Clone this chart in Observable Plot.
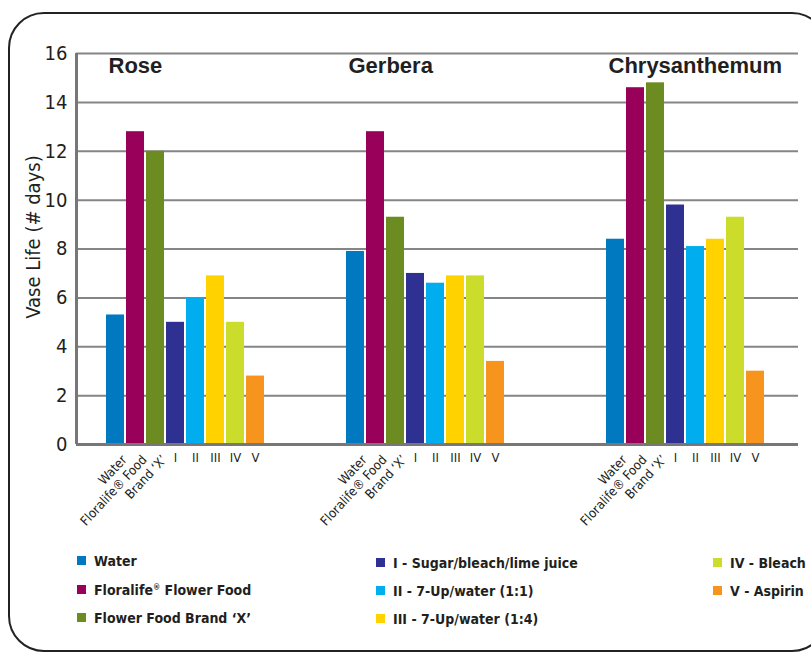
<!DOCTYPE html>
<html>
<head>
<meta charset="utf-8">
<script src="https://cdn.jsdelivr.net/npm/d3@7"></script>
<script src="https://cdn.jsdelivr.net/npm/@observablehq/plot@0.6"></script>
<style>
  html, body { margin: 0; padding: 0; background: #fff; width: 811px; height: 652px; overflow: hidden; }
  #frame { position: absolute; left: 8px; top: 12px; width: 816px; height: 636px; border: 2px solid #222; border-radius: 36px; }
  #chart { position: absolute; left: 0; top: 0; }
  .leg { position: absolute; font-family: "Liberation Sans Narrow", "DejaVu Sans Condensed", "Liberation Sans", sans-serif; font-weight: bold; font-size: 14px; color: #231f20; white-space: nowrap; line-height: 14px; }
  .leg .sw { position: absolute; left: 0; top: 2px; width: 9px; height: 9px; }
  .leg .tx { position: absolute; left: 17px; top: 0; }
  .leg sup { font-size: 8px; vertical-align: 5px; line-height: 0; }
</style>
</head>
<body>
<div id="frame"></div>
<div id="chart"></div>
<div id="legend"></div>
<script>
// ---- data ----
const groups = ["Rose", "Gerbera", "Chrysanthemum"];
const groupSlots = [0, 12, 25];
const treatments = ["Water", "Floralife Flower Food", "Flower Food Brand X", "I", "II", "III", "IV", "V"];
const tickLabels = ["Water", "Floralife\u00AE Food", "Brand \u2018X\u2019", "I", "II", "III", "IV", "V"];
const legendLabels = ["Water", "Floralife<sup>\u00AE</sup> Flower Food", "Flower Food Brand \u2018X\u2019",
  "I - Sugar/bleach/lime juice", "II - 7-Up/water (1:1)", "III - 7-Up/water (1:4)", "IV - Bleach", "V - Aspirin"];
const colors = ["#0079c1", "#98005a", "#6c8c22", "#2e3192", "#00aeef", "#ffd200", "#cbdc2b", "#f7941e"];
const rose = [5.3, 12.8, 12.0, 5.0, 6.0, 6.9, 5.0, 2.8];
const gerbera = [7.9, 12.8, 9.3, 7.0, 6.6, 6.9, 6.9, 3.4];
const chrysanthemum = [8.4, 14.6, 14.8, 9.8, 8.1, 8.4, 9.3, 3.0];
const yTicks = [0, 2, 4, 6, 8, 10, 12, 14, 16];
const yLabel = "Vase Life (# days)";

const series = [rose, gerbera, chrysanthemum];
const data = [];
series.forEach((vals, g) => vals.forEach((v, i) => data.push({
  group: groups[g], treatment: treatments[i], label: tickLabels[i], idx: i,
  slot: groupSlots[g] + i, value: v
})));
const titles = groups.map((name, g) => ({name, slot: groupSlots[g]}));

const xDomain = [-1.45, 34.65];
const condensed = "'Liberation Sans Narrow', 'DejaVu Sans Condensed', 'Liberation Sans', sans-serif";

const chart = Plot.plot({
  width: 811,
  height: 540,
  marginLeft: 76,
  marginTop: 53,
  marginRight: 13,
  marginBottom: 96,
  style: {background: "transparent", color: "#231f20", fontFamily: condensed},
  x: {type: "linear", domain: xDomain, axis: null},
  y: {domain: [0, 16], axis: null},
  color: {domain: treatments, range: colors},
  marks: [
    Plot.gridY(yTicks.slice(1), {stroke: "#858585", strokeWidth: 2, strokeOpacity: 1}),
    Plot.rectY(data, {x1: "slot", x2: d => d.slot + 1, y: "value", fill: "treatment", insetLeft: 1, insetRight: 1}),
    Plot.ruleX([xDomain[0]], {stroke: "#777", strokeWidth: 3}),
    Plot.ruleY([0], {stroke: "#777", strokeWidth: 3}),
    Plot.axisY(yTicks, {
      tickSize: 0, tickPadding: 9, fontSize: 20, fontFamily: condensed, label: null
    }),
    Plot.text([yLabel], {
      frameAnchor: "left", textAnchor: "middle", rotate: -90, dx: -43, dy: -12,
      fontSize: 20, fontFamily: condensed, fill: "#231f20"
    }),
    Plot.text(titles, {
      x: "slot", y: 16, text: "name", textAnchor: "start", dy: 12, dx: 3,
      fontSize: 22, fontWeight: "bold", fontFamily: "'Liberation Sans', Arial, sans-serif", fill: "#231f20"
    }),
    Plot.text(data.filter(d => d.idx < 3), {
      x: d => d.slot + 0.5, y: 0, text: "label", textAnchor: "end", rotate: -47,
      dx: 9, dy: 13, fontSize: 13, fontFamily: condensed, fill: "#231f20"
    }),
    Plot.text(data.filter(d => d.idx >= 3), {
      x: d => d.slot + 0.5, y: 0, text: "label", dy: 13, fontSize: 13, fontFamily: condensed, fill: "#231f20"
    })
  ]
});
document.getElementById("chart").appendChild(chart);

// ---- legend ----
const legendCols = [[0, 1, 2], [3, 4, 5], [6, 7]];
const colX = [77, 376, 713];
const colY = [[554, 583, 611], [556, 584, 612], [556, 584]];
const legend = document.getElementById("legend");
legendCols.forEach((col, c) => col.forEach((ti, r) => {
  const el = document.createElement("div");
  el.className = "leg";
  el.style.left = colX[c] + "px";
  el.style.top = colY[c][r] + "px";
  el.innerHTML = `<span class="sw" style="background:${colors[ti]}"></span><span class="tx">${legendLabels[ti]}</span>`;
  legend.appendChild(el);
}));
</script>
</body>
</html>
